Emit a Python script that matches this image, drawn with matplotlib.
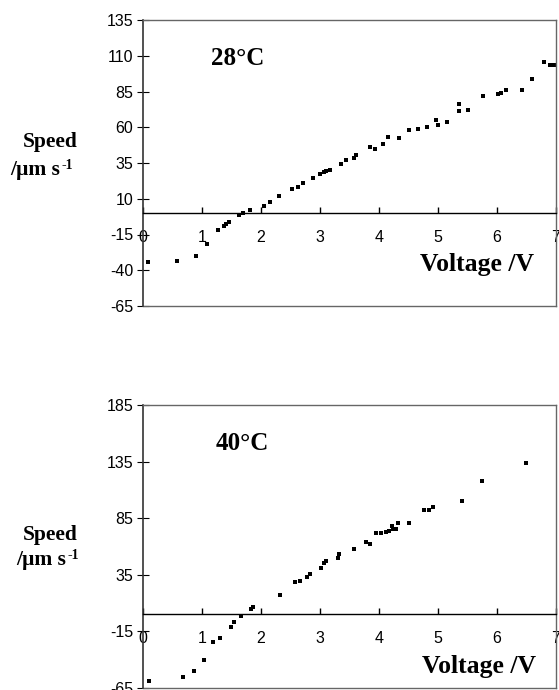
import matplotlib

matplotlib.use("Agg")
import matplotlib.pyplot as plt

plt.rcParams["font.family"] = ["Liberation Sans", "DejaVu Sans"]
plt.rcParams["axes.unicode_minus"] = False

# 28 degC run
volt_28 = [0.09, 0.57, 0.90, 1.08, 1.27, 1.37, 1.41, 1.46, 1.62, 1.70, 1.82,
           2.05, 2.15, 2.31, 2.52, 2.63, 2.72, 2.88, 3.00, 3.06, 3.11, 3.17,
           3.35, 3.44, 3.58, 3.61, 3.85, 3.94, 4.07, 4.15, 4.34, 4.50, 4.66,
           4.82, 4.96, 5.00, 5.15, 5.36, 5.36, 5.50, 5.77, 6.01, 6.06, 6.15,
           6.43, 6.60, 6.79, 6.90, 6.97]
speed_28 = [-34.0, -33.3, -30.3, -21.7, -12.2, -9.4, -7.6, -6.2, -1.3, 0.0, 1.9,
            4.9, 7.7, 11.6, 16.7, 18.5, 21.1, 24.3, 27.3, 28.4, 29.6, 29.9,
            34.5, 36.9, 38.5, 40.8, 45.9, 44.7, 48.2, 53.3, 52.4, 57.9, 59.1,
            60.0, 65.3, 61.6, 63.7, 76.0, 71.1, 72.0, 81.7, 83.6, 84.3, 85.9,
            85.9, 93.8, 105.8, 103.8, 103.8]

# 40 degC run
volt_40 = [0.10, 0.67, 0.86, 1.03, 1.19, 1.30, 1.49, 1.54, 1.66, 1.83, 1.86,
           2.33, 2.57, 2.66, 2.78, 2.83, 3.02, 3.07, 3.10, 3.30, 3.33, 3.57,
           3.78, 3.84, 3.95, 4.03, 4.12, 4.17, 4.22, 4.24, 4.29, 4.32, 4.51,
           4.76, 4.84, 4.91, 5.41, 5.74, 6.49]
speed_40 = [-58.9, -55.4, -49.6, -40.1, -24.5, -20.4, -11.3, -6.3, -1.0, 4.9, 6.3,
            16.9, 28.9, 29.8, 32.8, 35.5, 41.3, 45.7, 47.6, 49.8, 53.4, 57.8,
            63.7, 62.5, 71.6, 71.6, 73.0, 73.6, 78.3, 75.4, 75.7, 80.4, 80.4,
            92.2, 92.2, 95.1, 100.4, 118.0, 133.4]

yticks_28 = [-65, -40, -15, 10, 35, 60, 85, 110, 135]
yticks_40 = [-65, -15, 35, 85, 135, 185]
xticks = [0, 1, 2, 3, 4, 5, 6, 7]

W, H = 559, 690
fig = plt.figure(figsize=(W / 100, H / 100), dpi=100)
SERIF = "Liberation Serif"


def px(x, y):
    return x / W, 1 - y / H


def draw_panel(rect, volts, speeds, yticks, temp, temp_xy, volt_xy, speed_xy, unit_xy):
    ax = fig.add_axes(rect)
    ax.plot(volts, speeds, "s", color="black", markersize=3.0, markeredgewidth=0)
    ax.set_xlim(0, 7)
    ax.set_ylim(yticks[0], yticks[-1])
    ax.set_yticks(yticks)
    ax.set_xticks(xticks)

    # x axis runs along speed = 0
    ax.spines["bottom"].set_position(("data", 0))
    ax.spines["bottom"].set_color("black")
    ax.spines["bottom"].set_linewidth(1.0)
    ax.spines["left"].set_color("#333333")
    ax.spines["left"].set_linewidth(1.2)
    for side in ("top", "right"):
        ax.spines[side].set_color("#666666")
        ax.spines[side].set_linewidth(1.0)
    # bottom edge of the frame
    ax.plot([0, 1], [0, 0], transform=ax.transAxes, color="#666666", lw=1.0, clip_on=False)

    ax.tick_params(axis="x", direction="in", length=4, width=1, pad=12, labelsize=11.5)
    ax.tick_params(axis="y", direction="inout", length=8, width=0.8, pad=3, labelsize=11.5)

    fig.text(*px(*temp_xy), temp, family=SERIF, weight="bold",
             fontsize=18, ha="center", va="baseline")
    fig.text(*px(*volt_xy), "Voltage /V", family=SERIF, weight="bold",
             fontsize=18.5, ha="left", va="baseline")
    fig.text(*px(*speed_xy), "Speed", family=SERIF, weight="bold",
             fontsize=15.5, ha="center", va="baseline")
    unit = fig.text(*px(*unit_xy), "/µm s", family=SERIF, weight="bold",
                    fontsize=15.5, ha="left", va="baseline")
    ax.annotate("-1", xy=(1, 0), xycoords=unit, xytext=(1, 8), textcoords="offset points",
                family=SERIF, weight="bold", fontsize=10, ha="left", va="baseline",
                annotation_clip=False)
    return ax


draw_panel([143 / W, 1 - 306 / H, 413 / W, 286 / H], volt_28, speed_28, yticks_28,
           "28°C", (238, 65), (420, 271), (50, 147), (10, 175))
draw_panel([143 / W, 1 - 688 / H, 413 / W, 283 / H], volt_40, speed_40, yticks_40,
           "40°C", (242, 450), (422, 673), (50, 540), (16, 565))

fig.savefig("out.png", dpi=100)
